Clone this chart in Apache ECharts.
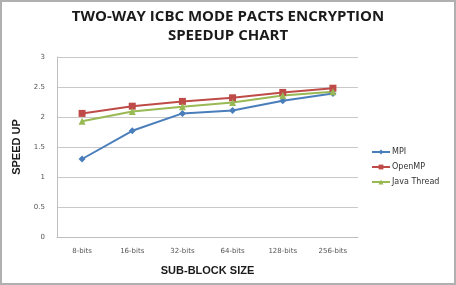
<!DOCTYPE html>
<html>
<head>
<meta charset="utf-8">
<script src="https://cdn.jsdelivr.net/npm/echarts@6/dist/echarts.min.js"></script>
<style>
  html, body { margin: 0; padding: 0; background: #fff; }
  #chart { width: 456px; height: 285px; box-sizing: border-box; border: 2px solid #b0b0b0; }
</style>
</head>
<body>
<div id="chart"></div>
<script>
var categories = ["8-bits", "16-bits", "32-bits", "64-bits", "128-bits", "256-bits"];
var mpi = [1.3, 1.77, 2.06, 2.11, 2.27, 2.39];
var openmp = [2.06, 2.18, 2.26, 2.32, 2.41, 2.48];
var javaThread = [1.93, 2.09, 2.17, 2.24, 2.36, 2.42];

var myChart = echarts.init(document.getElementById("chart"), null, { renderer: "canvas" });

var option = {
  animation: false,
  title: {
    text: "TWO-WAY ICBC MODE PACTS ENCRYPTION\nSPEEDUP CHART",
    left: 221,
    textAlign: "center",
    top: 0,
    textStyle: { fontFamily: "Open Sans", fontSize: 15, fontWeight: "bold", color: "#1a1a1a", lineHeight: 19 }
  },
  legend: {
    orient: "vertical",
    left: 364,
    top: 141,
    itemWidth: 18,
    itemHeight: 6,
    itemGap: 7,
    textStyle: { fontFamily: "DejaVu Sans", fontSize: 8, color: "#333", padding: [0, 0, 0, -3] },
    data: ["MPI", "OpenMP", "Java Thread"]
  },
  grid: { left: 55, right: 96, top: 55, bottom: 46 },
  xAxis: {
    type: "category",
    data: categories,
    name: "SUB-BLOCK SIZE",
    nameLocation: "middle",
    nameGap: 28,
    nameTextStyle: { fontFamily: "Liberation Sans", fontSize: 11, fontWeight: "bold", color: "#1a1a1a" },
    axisLine: { lineStyle: { color: "#bfbfbf" } },
    axisTick: { show: false },
    axisLabel: { fontFamily: "DejaVu Sans", fontSize: 7, color: "#555", margin: 11 }
  },
  yAxis: {
    type: "value",
    min: 0,
    max: 3,
    interval: 0.5,
    name: "SPEED UP",
    nameLocation: "middle",
    nameGap: 31,
    nameTextStyle: { fontFamily: "Liberation Sans", fontSize: 11, fontWeight: "bold", color: "#1a1a1a" },
    axisLine: { show: true, lineStyle: { color: "#bfbfbf" } },
    axisTick: { show: false },
    splitLine: { lineStyle: { color: "#c8c8c8" } },
    axisLabel: { fontFamily: "DejaVu Sans", fontSize: 7, color: "#555", margin: 12 }
  },
  series: [
    {
      name: "MPI", type: "line", data: mpi,
      symbol: "diamond", symbolSize: 7,
      lineStyle: { color: "#4A7EBB", width: 2 },
      itemStyle: { color: "#4A7EBB" }
    },
    {
      name: "OpenMP", type: "line", data: openmp,
      symbol: "rect", symbolSize: 7,
      lineStyle: { color: "#BE4B48", width: 2 },
      itemStyle: { color: "#BE4B48" }
    },
    {
      name: "Java Thread", type: "line", data: javaThread,
      symbol: "triangle", symbolSize: 7,
      lineStyle: { color: "#98B954", width: 2 },
      itemStyle: { color: "#98B954" }
    }
  ]
};

myChart.setOption(option);
</script>
</body>
</html>
